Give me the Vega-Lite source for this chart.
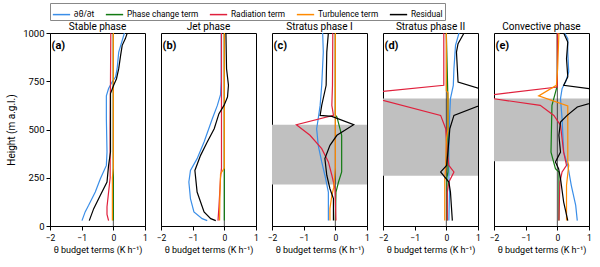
{
  "$schema": "https://vega.github.io/schema/vega-lite/v6.json",
  "padding": {"left": 6, "top": 2, "right": 3, "bottom": 2},
  "bounds": "flush",
  "config": {
    "font": "Roboto",
    "view": {"stroke": "#000", "strokeWidth": 1},
    "axis": {"labelFontSize": 8.5, "titleFontSize": 9, "titleFontWeight": "normal", "labelColor": "#000", "titleColor": "#000", "tickColor": "#000", "domainColor": "#000", "grid": false}
  },
  "data": {"values": [
    {"p":"c","k":"s","lo":215,"hi":525},
    {"p":"d","k":"s","lo":260,"hi":660},
    {"p":"e","k":"s","lo":335,"hi":660},
    {"p":"a","k":"l","lab":"(a)"},
    {"p":"b","k":"l","lab":"(b)"},
    {"p":"c","k":"l","lab":"(c)"},
    {"p":"d","k":"l","lab":"(d)"},
    {"p":"e","k":"l","lab":"(e)"},

    {"p":"a","t":"T","h":1000,"v":0.35},{"p":"a","t":"T","h":901,"v":0.17},{"p":"a","t":"T","h":815,"v":0.12},{"p":"a","t":"T","h":772,"v":0.07},{"p":"a","t":"T","h":746,"v":-0.04},{"p":"a","t":"T","h":712,"v":-0.15},{"p":"a","t":"T","h":674,"v":-0.22},{"p":"a","t":"T","h":556,"v":-0.22},{"p":"a","t":"T","h":383,"v":-0.2},{"p":"a","t":"T","h":314,"v":-0.22},{"p":"a","t":"T","h":245,"v":-0.41},{"p":"a","t":"T","h":176,"v":-0.57},{"p":"a","t":"T","h":107,"v":-0.78},{"p":"a","t":"T","h":73,"v":-0.89},{"p":"a","t":"T","h":28,"v":-0.99},
    {"p":"a","t":"P","h":1000,"v":0},{"p":"a","t":"P","h":28,"v":0},
    {"p":"a","t":"R","h":1000,"v":-0.08},{"p":"a","t":"R","h":750,"v":-0.09},{"p":"a","t":"R","h":500,"v":-0.1},{"p":"a","t":"R","h":250,"v":-0.1},{"p":"a","t":"R","h":100,"v":-0.2},{"p":"a","t":"R","h":60,"v":-0.2},{"p":"a","t":"R","h":28,"v":-0.15},
    {"p":"a","t":"U","h":1000,"v":0},{"p":"a","t":"U","h":300,"v":0},{"p":"a","t":"U","h":250,"v":-0.03},{"p":"a","t":"U","h":28,"v":-0.03},
    {"p":"a","t":"E","h":1000,"v":0.44},{"p":"a","t":"E","h":971,"v":0.38},{"p":"a","t":"E","h":936,"v":0.28},{"p":"a","t":"E","h":884,"v":0.23},{"p":"a","t":"E","h":815,"v":0.17},{"p":"a","t":"E","h":763,"v":0.1},{"p":"a","t":"E","h":729,"v":0.01},{"p":"a","t":"E","h":686,"v":-0.09},{"p":"a","t":"E","h":556,"v":-0.09},{"p":"a","t":"E","h":383,"v":-0.09},{"p":"a","t":"E","h":314,"v":-0.15},{"p":"a","t":"E","h":228,"v":-0.2},{"p":"a","t":"E","h":159,"v":-0.41},{"p":"a","t":"E","h":90,"v":-0.62},{"p":"a","t":"E","h":28,"v":-0.76},

    {"p":"b","t":"T","h":1000,"v":-0.1},{"p":"b","t":"T","h":750,"v":-0.1},{"p":"b","t":"T","h":680,"v":-0.12},{"p":"b","t":"T","h":625,"v":-0.22},{"p":"b","t":"T","h":556,"v":-0.38},{"p":"b","t":"T","h":435,"v":-0.64},{"p":"b","t":"T","h":349,"v":-0.86},{"p":"b","t":"T","h":288,"v":-1.07},{"p":"b","t":"T","h":228,"v":-1.12},{"p":"b","t":"T","h":142,"v":-1.07},{"p":"b","t":"T","h":73,"v":-0.96},{"p":"b","t":"T","h":38,"v":-0.7},{"p":"b","t":"T","h":28,"v":-0.54},
    {"p":"b","t":"P","h":1000,"v":0},{"p":"b","t":"P","h":28,"v":0},
    {"p":"b","t":"R","h":1000,"v":-0.09},{"p":"b","t":"R","h":300,"v":-0.09},{"p":"b","t":"R","h":250,"v":-0.12},{"p":"b","t":"R","h":100,"v":-0.17},{"p":"b","t":"R","h":28,"v":-0.2},
    {"p":"b","t":"U","h":1000,"v":0},{"p":"b","t":"U","h":300,"v":0},{"p":"b","t":"U","h":270,"v":-0.12},{"p":"b","t":"U","h":150,"v":-0.14},{"p":"b","t":"U","h":28,"v":-0.15},
    {"p":"b","t":"E","h":1000,"v":0.05},{"p":"b","t":"E","h":815,"v":0.07},{"p":"b","t":"E","h":729,"v":0.13},{"p":"b","t":"E","h":668,"v":0.1},{"p":"b","t":"E","h":625,"v":-0.01},{"p":"b","t":"E","h":582,"v":-0.17},{"p":"b","t":"E","h":504,"v":-0.32},{"p":"b","t":"E","h":435,"v":-0.54},{"p":"b","t":"E","h":366,"v":-0.75},{"p":"b","t":"E","h":288,"v":-0.93},{"p":"b","t":"E","h":176,"v":-0.86},{"p":"b","t":"E","h":73,"v":-0.64},{"p":"b","t":"E","h":38,"v":-0.43},{"p":"b","t":"E","h":28,"v":-0.27},

    {"p":"c","t":"T","h":1000,"v":-0.4},{"p":"c","t":"T","h":901,"v":-0.38},{"p":"c","t":"T","h":729,"v":-0.43},{"p":"c","t":"T","h":625,"v":-0.48},{"p":"c","t":"T","h":556,"v":-0.54},{"p":"c","t":"T","h":504,"v":-0.59},{"p":"c","t":"T","h":418,"v":-0.54},{"p":"c","t":"T","h":332,"v":-0.43},{"p":"c","t":"T","h":263,"v":-0.33},{"p":"c","t":"T","h":176,"v":-0.22},{"p":"c","t":"T","h":28,"v":-0.22},
    {"p":"c","t":"P","h":1000,"v":0},{"p":"c","t":"P","h":575,"v":0},{"p":"c","t":"P","h":565,"v":0.05},{"p":"c","t":"P","h":470,"v":0.2},{"p":"c","t":"P","h":280,"v":0.2},{"p":"c","t":"P","h":228,"v":0.1},{"p":"c","t":"P","h":176,"v":0.02},{"p":"c","t":"P","h":28,"v":0},
    {"p":"c","t":"R","h":1000,"v":-0.08},{"p":"c","t":"R","h":729,"v":-0.09},{"p":"c","t":"R","h":625,"v":-0.11},{"p":"c","t":"R","h":573,"v":-0.06},{"p":"c","t":"R","h":525,"v":-1.23},{"p":"c","t":"R","h":470,"v":-0.8},{"p":"c","t":"R","h":401,"v":-0.43},{"p":"c","t":"R","h":332,"v":-0.22},{"p":"c","t":"R","h":263,"v":-0.11},{"p":"c","t":"R","h":193,"v":-0.01},{"p":"c","t":"R","h":28,"v":0.02},
    {"p":"c","t":"U","h":1000,"v":0},{"p":"c","t":"U","h":300,"v":0},{"p":"c","t":"U","h":200,"v":-0.05},{"p":"c","t":"U","h":159,"v":-0.11},{"p":"c","t":"U","h":90,"v":-0.17},{"p":"c","t":"U","h":28,"v":-0.17},
    {"p":"c","t":"E","h":1000,"v":-0.22},{"p":"c","t":"E","h":901,"v":-0.27},{"p":"c","t":"E","h":729,"v":-0.29},{"p":"c","t":"E","h":625,"v":-0.43},{"p":"c","t":"E","h":573,"v":-0.48},{"p":"c","t":"E","h":568,"v":-0.11},{"p":"c","t":"E","h":525,"v":0.58},{"p":"c","t":"E","h":470,"v":0.05},{"p":"c","t":"E","h":418,"v":-0.17},{"p":"c","t":"E","h":349,"v":-0.33},{"p":"c","t":"E","h":263,"v":-0.27},{"p":"c","t":"E","h":193,"v":-0.17},{"p":"c","t":"E","h":142,"v":-0.06},{"p":"c","t":"E","h":28,"v":-0.06},

    {"p":"d","t":"T","h":1000,"v":0.4},{"p":"d","t":"T","h":936,"v":0.29},{"p":"d","t":"T","h":815,"v":0.24},{"p":"d","t":"T","h":729,"v":0.22},{"p":"d","t":"T","h":660,"v":0.13},{"p":"d","t":"T","h":556,"v":0.1},{"p":"d","t":"T","h":383,"v":0.08},{"p":"d","t":"T","h":263,"v":0.08},{"p":"d","t":"T","h":176,"v":0.1},{"p":"d","t":"T","h":28,"v":0.08},
    {"p":"d","t":"P","h":1000,"v":0},{"p":"d","t":"P","h":660,"v":0.05},{"p":"d","t":"P","h":280,"v":0.05},{"p":"d","t":"P","h":250,"v":0.02},{"p":"d","t":"P","h":28,"v":0.02},
    {"p":"d","t":"R","h":1000,"v":-0.08},{"p":"d","t":"R","h":729,"v":-0.08},{"p":"d","t":"R","h":690,"v":-2.5},{"p":"d","t":"R","h":672,"v":-2.5},{"p":"d","t":"R","h":573,"v":-0.18},{"p":"d","t":"R","h":504,"v":-0.02},{"p":"d","t":"R","h":383,"v":0.03},{"p":"d","t":"R","h":314,"v":0.08},{"p":"d","t":"R","h":280,"v":0.24},{"p":"d","t":"R","h":228,"v":0.08},{"p":"d","t":"R","h":176,"v":0.03},{"p":"d","t":"R","h":28,"v":0.03},
    {"p":"d","t":"U","h":1000,"v":0},{"p":"d","t":"U","h":700,"v":0},{"p":"d","t":"U","h":690,"v":0.05},{"p":"d","t":"U","h":500,"v":0.05},{"p":"d","t":"U","h":450,"v":0},{"p":"d","t":"U","h":300,"v":-0.02},{"p":"d","t":"U","h":250,"v":-0.05},{"p":"d","t":"U","h":28,"v":-0.05},
    {"p":"d","t":"E","h":1000,"v":0.56},{"p":"d","t":"E","h":945,"v":0.37},{"p":"d","t":"E","h":901,"v":0.32},{"p":"d","t":"E","h":746,"v":0.37},{"p":"d","t":"E","h":700,"v":1.3},{"p":"d","t":"E","h":640,"v":1.3},{"p":"d","t":"E","h":573,"v":0.24},{"p":"d","t":"E","h":504,"v":0.11},{"p":"d","t":"E","h":383,"v":0.05},{"p":"d","t":"E","h":314,"v":0.01},{"p":"d","t":"E","h":280,"v":-0.18},{"p":"d","t":"E","h":228,"v":0.08},{"p":"d","t":"E","h":176,"v":0.13},{"p":"d","t":"E","h":28,"v":0.19},

    {"p":"e","t":"T","h":1000,"v":0.23},{"p":"e","t":"T","h":971,"v":0.33},{"p":"e","t":"T","h":901,"v":0.33},{"p":"e","t":"T","h":798,"v":0.36},{"p":"e","t":"T","h":746,"v":0.26},{"p":"e","t":"T","h":712,"v":0.15},{"p":"e","t":"T","h":660,"v":0.1},{"p":"e","t":"T","h":556,"v":0.15},{"p":"e","t":"T","h":383,"v":0.2},{"p":"e","t":"T","h":314,"v":0.33},{"p":"e","t":"T","h":211,"v":0.44},{"p":"e","t":"T","h":107,"v":0.58},{"p":"e","t":"T","h":28,"v":0.63},
    {"p":"e","t":"P","h":1000,"v":0},{"p":"e","t":"P","h":729,"v":0},{"p":"e","t":"P","h":625,"v":-0.17},{"p":"e","t":"P","h":383,"v":-0.2},{"p":"e","t":"P","h":297,"v":-0.06},{"p":"e","t":"P","h":280,"v":0.05},{"p":"e","t":"P","h":28,"v":0.05},
    {"p":"e","t":"R","h":1000,"v":0},{"p":"e","t":"R","h":720,"v":0},{"p":"e","t":"R","h":671,"v":-2.5},{"p":"e","t":"R","h":625,"v":-0.54},{"p":"e","t":"R","h":573,"v":-0.11},{"p":"e","t":"R","h":522,"v":0.1},{"p":"e","t":"R","h":383,"v":0.2},{"p":"e","t":"R","h":314,"v":0.29},{"p":"e","t":"R","h":280,"v":0.15},{"p":"e","t":"R","h":228,"v":0.08},{"p":"e","t":"R","h":28,"v":0.05},
    {"p":"e","t":"U","h":1000,"v":0.05},{"p":"e","t":"U","h":815,"v":0.01},{"p":"e","t":"U","h":729,"v":-0.03},{"p":"e","t":"U","h":674,"v":-0.59},{"p":"e","t":"U","h":622,"v":0.33},{"p":"e","t":"U","h":332,"v":0.33},{"p":"e","t":"U","h":314,"v":0.36},{"p":"e","t":"U","h":211,"v":0.29},{"p":"e","t":"U","h":28,"v":0.29},
    {"p":"e","t":"E","h":1000,"v":0.2},{"p":"e","t":"E","h":953,"v":0.33},{"p":"e","t":"E","h":867,"v":0.29},{"p":"e","t":"E","h":772,"v":0.33},{"p":"e","t":"E","h":729,"v":0.2},{"p":"e","t":"E","h":705,"v":1.3},{"p":"e","t":"E","h":648,"v":1.3},{"p":"e","t":"E","h":617,"v":0.63},{"p":"e","t":"E","h":573,"v":0.31},{"p":"e","t":"E","h":539,"v":0.1},{"p":"e","t":"E","h":470,"v":0.05},{"p":"e","t":"E","h":383,"v":0.1},{"p":"e","t":"E","h":332,"v":-0.06},{"p":"e","t":"E","h":297,"v":0.04},{"p":"e","t":"E","h":245,"v":0.1},{"p":"e","t":"E","h":124,"v":0.2},{"p":"e","t":"E","h":28,"v":0.33}
  ]},
  "facet": {
    "column": {
      "field": "p", "type": "nominal", "sort": ["a","b","c","d","e"],
      "header": {
        "title": null, "labelFontSize": 10, "labelPadding": 1, "labelColor": "#000",
        "labelExpr": "{'a':'Stable phase','b':'Jet phase','c':'Stratus phase I','d':'Stratus phase II','e':'Convective phase'}[datum.value]"
      }
    }
  },
  "spacing": 16,
  "spec": {
    "width": 95,
    "height": 193,
    "layer": [
      {
        "transform": [{"filter": "datum.k == 's'"}],
        "mark": {"type": "rect", "color": "#c0c0c0"},
        "encoding": {
          "y": {"field": "lo", "type": "quantitative", "scale": {"domain": [0, 1000], "nice": false},
            "axis": {"values": [0,250,500,750,1000], "format": "d", "title": "Height (m a.g.l.)", "tickSize": 4, "titlePadding": 6, "labelFontSize": 9.5, "titleFontSize": 10, "labelOverlap": false}},
          "y2": {"field": "hi"}
        }
      },
      {
        "transform": [{"filter": "datum.k == 'l'"}],
        "mark": {"type": "rule", "color": "#222", "strokeWidth": 0.8},
        "encoding": {
          "x": {"datum": 0, "type": "quantitative", "scale": {"domain": [-2, 1], "nice": false},
            "axis": {"values": [-2,-1,0,1], "title": "θ budget terms (K h⁻¹)", "tickSize": 4, "labelPadding": 3, "titlePadding": 4, "labelOverlap": false, "labelFlush": false, "labelBound": false}}
        }
      },
      {
        "transform": [{"filter": "!datum.k"}],
        "mark": {"type": "line", "strokeWidth": 1.2, "clip": true},
        "encoding": {
          "x": {"field": "v", "type": "quantitative", "scale": {"domain": [-2, 1], "nice": false},
            "axis": {"values": [-2,-1,0,1], "title": "θ budget terms (K h⁻¹)", "tickSize": 4, "labelPadding": 3, "titlePadding": 4, "labelOverlap": false, "labelFlush": false, "labelBound": false}},
          "y": {"field": "h", "type": "quantitative", "scale": {"domain": [0, 1000], "nice": false},
            "axis": {"values": [0,250,500,750,1000], "format": "d", "title": "Height (m a.g.l.)", "tickSize": 4, "titlePadding": 6, "labelFontSize": 9.5, "titleFontSize": 10, "labelOverlap": false}},
          "color": {
            "field": "t", "type": "nominal",
            "scale": {"domain": ["T","P","R","U","E"], "range": ["#3a8ee8","#127a12","#e0203c","#ff8a00","#000000"]},
            "legend": {
              "orient": "top", "direction": "horizontal", "title": null,
              "symbolType": "stroke", "symbolStrokeWidth": 1.5, "symbolSize": 300,
              "labelFontSize": 8.3, "labelColor": "#000", "strokeColor": "#888", "padding": 2, "columnPadding": 7, "offset": 2, "labelOffset": 3,
              "labelExpr": "{'T':'∂θ/∂t','P':'Phase change term','R':'Radiation term','U':'Turbulence term','E':'Residual'}[datum.label]"
            }
          },
          "order": {"field": "h", "type": "quantitative"}
        }
      },
      {
        "transform": [{"filter": "datum.k == 'l'"}],
        "mark": {"type": "text", "fontWeight": "bold", "fontSize": 11, "align": "left", "baseline": "middle", "color": "#000"},
        "encoding": {
          "x": {"datum": -1.95, "type": "quantitative", "scale": {"domain": [-2, 1], "nice": false},
            "axis": {"values": [-2,-1,0,1], "title": "θ budget terms (K h⁻¹)", "tickSize": 4, "labelPadding": 3, "titlePadding": 4, "labelOverlap": false, "labelFlush": false, "labelBound": false}},
          "y": {"datum": 935, "type": "quantitative", "scale": {"domain": [0, 1000], "nice": false},
            "axis": {"values": [0,250,500,750,1000], "format": "d", "title": "Height (m a.g.l.)", "tickSize": 4, "titlePadding": 6, "labelFontSize": 9.5, "titleFontSize": 10, "labelOverlap": false}},
          "text": {"field": "lab"}
        }
      }
    ]
  }
}
